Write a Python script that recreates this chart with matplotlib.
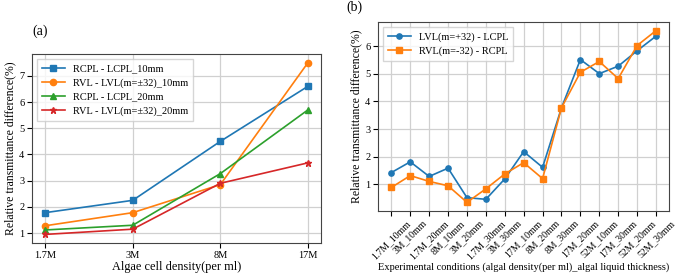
import matplotlib
matplotlib.use('Agg')
import matplotlib.pyplot as plt

plt.rcParams['font.family'] = ['Liberation Serif', 'DejaVu Serif']

# panel (a)
densities = ['1.7M', '3M', '8M', '17M']
rcpl_10 = [1.78, 2.25, 4.5, 6.6]
rvl_10 = [1.28, 1.78, 2.85, 7.5]
rcpl_20 = [1.12, 1.3, 3.27, 5.7]
rvl_20 = [0.95, 1.15, 2.9, 3.68]

# panel (b)
conditions = ['1.7M_10mm', '3M_10mm', '1.7M_20mm', '8M_10mm', '3M_20mm',
              '1.7M_30mm', '3M_30mm', '17M_10mm', '8M_20mm', '8M_30mm',
              '17M_20mm', '52M_10mm', '17M_30mm', '52M_20mm', '52M_30mm']
lvl_lcpl = [1.42, 1.81, 1.28, 1.58, 0.51, 0.45, 1.19, 2.18, 1.61, 3.77,
            5.52, 5.01, 5.28, 5.84, 6.37]
rvl_rcpl = [0.88, 1.31, 1.10, 0.94, 0.34, 0.83, 1.37, 1.78, 1.20, 3.77,
            5.06, 5.45, 4.83, 6.03, 6.57]

fig = plt.figure(figsize=(6.85, 2.79), dpi=100)

ax1 = fig.add_axes([0.0467, 0.129, 0.422, 0.677])
ax1.plot(densities, rcpl_10, marker='s', ms=4.5, lw=1.2, label='RCPL - LCPL_10mm')
ax1.plot(densities, rvl_10, marker='o', ms=4.5, lw=1.2, label='RVL - LVL(m=±32)_10mm')
ax1.plot(densities, rcpl_20, marker='^', ms=4.5, lw=1.2, label='RCPL - LCPL_20mm')
ax1.plot(densities, rvl_20, marker='*', ms=5, lw=1.2, label='RVL - LVL(m=±32)_20mm')
ax1.set_xlabel('Algae cell density(per ml)', fontsize=8.8, labelpad=1)
ax1.set_ylabel('Relative transmittance difference(%)', fontsize=8.5, labelpad=2)
ax1.tick_params(labelsize=7.5, pad=2)
ax1.grid(color='#d0d0d0', lw=0.9)
ax1.legend(loc='upper left', fontsize=7.5, handlelength=2.2, labelspacing=0.45,
           borderpad=0.45, fancybox=False)
ax1.text(0.0, 1.1, '(a)', transform=ax1.transAxes, fontsize=10)

ax2 = fig.add_axes([0.552, 0.244, 0.425, 0.677])
ax2.plot(conditions, lvl_lcpl, marker='o', ms=3.8, lw=1.2, label='LVL(m=+32) - LCPL')
ax2.plot(conditions, rvl_rcpl, marker='s', ms=3.8, lw=1.2, label='RVL(m=-32) - RCPL')
ax2.set_xlabel('Experimental conditions (algal density(per ml)_algal liquid thickness)',
               fontsize=7.5, labelpad=1)
ax2.set_ylabel('Relative transmittance difference(%)', fontsize=8.5, labelpad=2)
ax2.tick_params(labelsize=7.5, pad=2)
ax2.tick_params(axis='x', labelsize=7, labelrotation=45)
ax2.grid(color='#d0d0d0', lw=0.9)
ax2.legend(loc='upper left', fontsize=7.5, handlelength=2.2, labelspacing=0.45,
           borderpad=0.45, fancybox=False)
ax2.text(-0.11, 1.06, '(b)', transform=ax2.transAxes, fontsize=10)

for ax in (ax1, ax2):
    for s in ax.spines.values():
        s.set_color('#444444')

fig.savefig('out.png', dpi=100)
